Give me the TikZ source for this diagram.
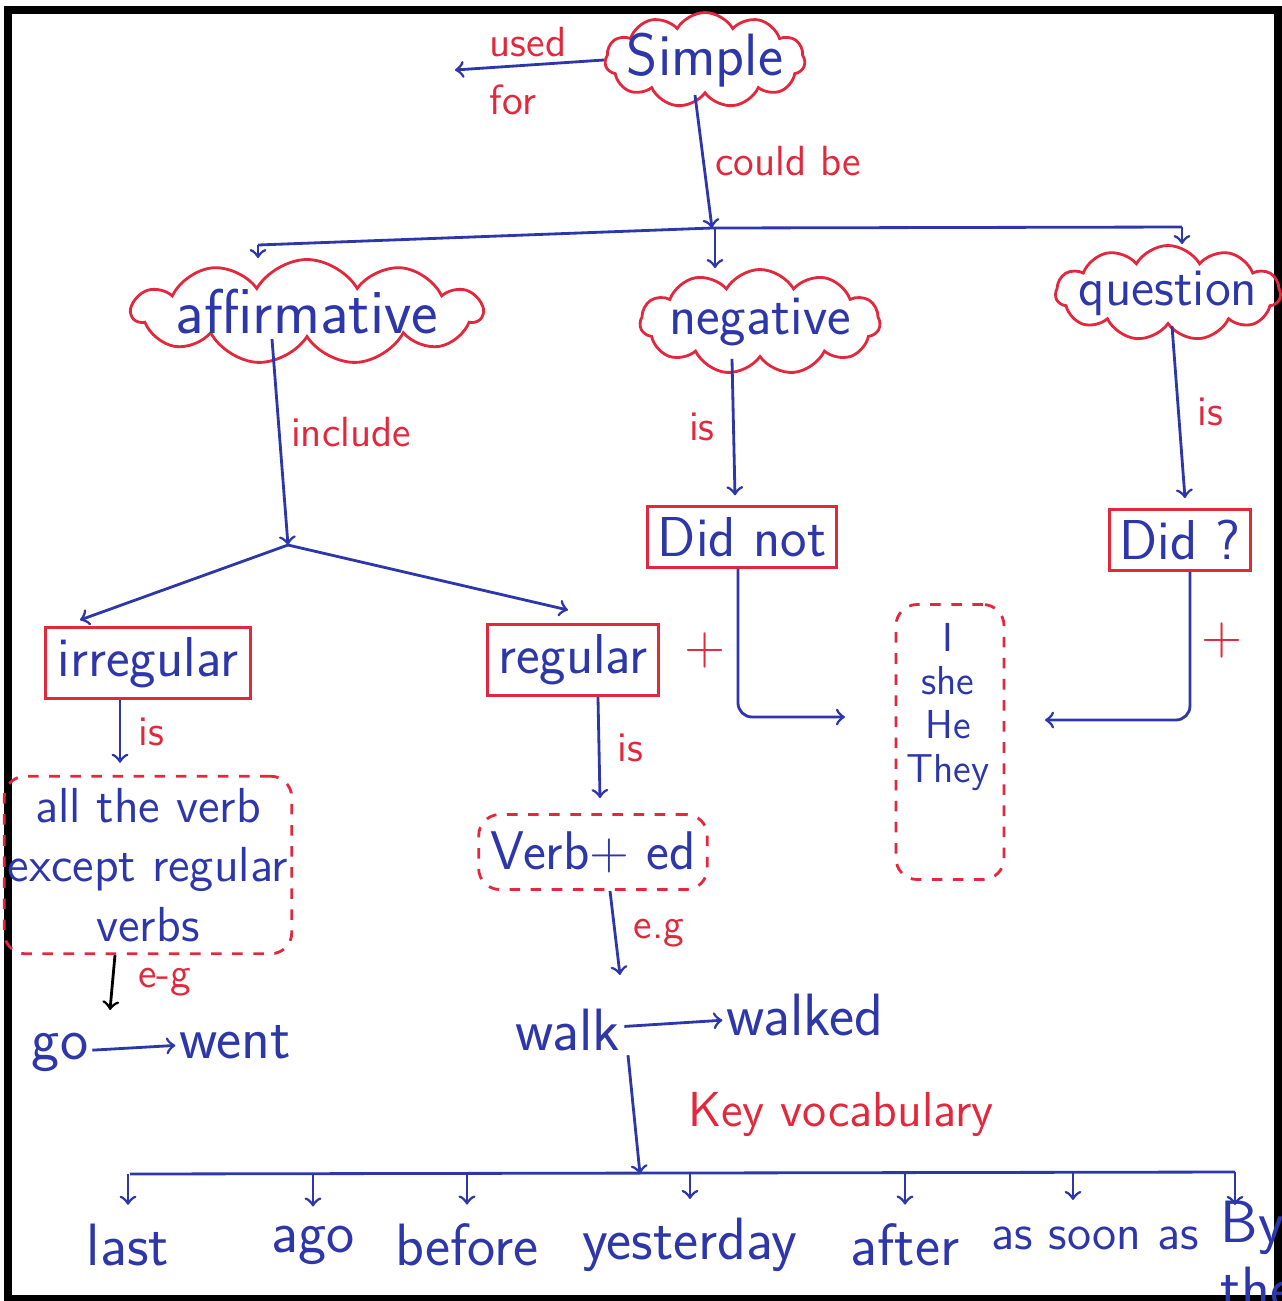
\documentclass[tikz,border=0pt]{standalone}
\usepackage{tikz}
\usetikzlibrary{shapes.symbols,positioning}
\definecolor{inkblue}{RGB}{45,55,170}
\definecolor{inkred}{RGB}{225,40,60}
\tikzset{
    word/.style={text=inkblue, font=\sffamily\fontsize{17}{19}\selectfont, inner sep=1pt},
    note/.style={text=inkred, font=\sffamily\fontsize{12}{14}\selectfont, inner sep=1pt},
    puff/.style={cloud, draw=inkred, thick, cloud puffs=11, cloud puff arc=120,
            cloud ignores aspect, inner sep=0pt},
    puffword/.style={text=inkblue, font=\sffamily\fontsize{16}{18}\selectfont},
    framebox/.style={draw=inkred, thick, text=inkblue,
            font=\sffamily\fontsize{16}{18}\selectfont, inner sep=3pt},
    dashbox/.style={draw=inkred, thick, dashed, rounded corners=6pt, text=inkblue,
            font=\sffamily\fontsize{14}{17}\selectfont, align=center},
    link/.style={draw=inkblue, thick, ->},
    bar/.style={draw=inkblue, thick},
}
\begin{document}
\begin{tikzpicture}
        \useasboundingbox (0,0) rectangle (12.82,-13.01);
        %frame
        \draw[line width=2pt] (0.08,-0.1) rectangle (12.78,-12.98);
        %top node
        \node[puff, minimum width=2.0cm, minimum height=0.95cm,
            label={[puffword, font=\sffamily\fontsize{17}{19}\selectfont]center:Simple}] (simple) at (7.05,-0.6) {};
        \node[note] (used) at (5.28,-0.42) {used};
        \node[note] (for) at (5.13,-1.0) {for};
        \coordinate (usedend) at (4.55,-0.7);
        \draw[link] (simple.west) -- (usedend);
        %split into three
        \coordinate (split) at (7.12,-2.28);
        \coordinate (capA) at (2.58,-2.45);
        \coordinate (capN) at (7.15,-2.28);
        \coordinate (capQ) at (11.82,-2.27);
        \draw[link] ([xshift=-0.1cm]simple.south) -- (split) node [note, midway, right=2pt] {could be};
        \draw[bar] (capA) -- (split) -- (capQ);
        \node[puff, minimum width=3.5cm, minimum height=1.05cm,
            label={[puffword, font=\sffamily\fontsize{18}{20}\selectfont]center:affirmative}] (affirm) at (3.07,-3.12) {};
        \node[puff, minimum width=2.4cm, minimum height=1.05cm,
            label={[puffword]center:negative}] (neg) at (7.6,-3.22) {};
        \node[puff, minimum width=2.25cm, minimum height=0.95cm,
            label={[puffword, font=\sffamily\fontsize{15}{17}\selectfont]center:question}] (quest) at (11.68,-2.93) {};
        \draw[link] (capA) -- (capA |- affirm.north);
        \draw[link] (capN) -- (capN |- neg.north);
        \draw[link] (capQ) -- (capQ |- quest.north);
        %affirmative branch
        \coordinate (fork) at (2.88,-5.45);
        \draw[link] ([xshift=-0.35cm]affirm.south) -- (fork) node [note, pos=0.45, right=2pt] {include};
        \node[framebox, minimum width=2.05cm, minimum height=0.7cm] (irreg) at (1.48,-6.63) {irregular};
        \node[framebox, minimum width=1.5cm, minimum height=0.7cm] (reg) at (5.73,-6.6) {regular};
        \coordinate (toirr) at (0.8,-6.2);
        \coordinate (toreg) at (5.68,-6.1);
        \draw[link] (fork) -- (toirr);
        \draw[link] (fork) -- (toreg);
        \node[note, font=\sffamily\fontsize{16}{16}\selectfont] (plusreg) at (7.05,-6.5) {+};
        %irregular verbs
        \node[dashbox, inner xsep=1pt, minimum width=2.7cm, minimum height=1.6cm] (allverb) at (1.48,-8.65)
            {all the verb\\except regular\\verbs};
        \draw[link] ([xshift=-0.28cm]irreg.south) -- ([xshift=-0.28cm,yshift=0.12cm]allverb.north)
            node [note, midway, right=4pt] {is};
        \node[word] (go) at (0.6,-10.52) {go};
        \node[word] (went) at (2.35,-10.42) {went};
        \draw[link] (go) -- (went);
        \coordinate (toeg) at (1.1,-10.1);
        \draw[thick, ->] ([xshift=-0.33cm]allverb.south) -- (toeg) node [note, midway, right=6pt] {e-g};
        %regular verbs
        \node[dashbox, font=\sffamily\fontsize{15.5}{17}\selectfont, minimum width=2.08cm, minimum height=0.75cm] (verbed) at (5.93,-8.52) {Verb+ ed};
        \draw[link] ([xshift=0.25cm]reg.south) -- ([xshift=0.07cm,yshift=0.15cm]verbed.north)
            node [note, midway, right=4pt] {is};
        \node[word] (walk) at (5.68,-10.3) {walk};
        \node[word] (walked) at (8.05,-10.15) {walked};
        \draw[link] (walk) -- (walked);
        \coordinate (towalk) at (6.2,-9.75);
        \draw[link] ([xshift=0.17cm]verbed.south) -- (towalk) node [note, midway, right=4pt] {e.g};
        %negative and question
        \node[framebox, minimum width=1.75cm, minimum height=0.55cm] (didnot) at (7.42,-5.37) {Did not};
        \node[framebox, minimum width=1.4cm, minimum height=0.6cm] (didq) at (11.8,-5.4) {Did ?};
        \draw[link] ([xshift=-0.28cm]neg.south) -- ([xshift=-0.07cm,yshift=0.1cm]didnot.north)
            node [note, midway, left=4pt] {is};
        \draw[link] ([xshift=0.04cm]quest.south) -- ([xshift=0.05cm,yshift=0.1cm]didq.north)
            node [note, midway, right=4pt] {is};
        \node[note, font=\sffamily\fontsize{16}{16}\selectfont] (plusq) at (12.22,-6.4) {+};
        %pronouns
        \node[dashbox, minimum width=1.08cm, minimum height=2.75cm] (pron) at (9.5,-7.42) {};
        \node[word, align=center, font=\sffamily\fontsize{11.5}{12.5}\selectfont] (who) at (9.48,-7.07) {I\\she\\He\\They};
        \coordinate (pinL) at (8.45,-7.17);
        \coordinate (pinR) at (10.45,-7.2);
        \draw[link, rounded corners=4pt] ([xshift=-0.04cm]didnot.south) |- (pinL);
        \draw[link, rounded corners=4pt] ([xshift=0.1cm]didq.south) |- (pinR);
        %key vocabulary
        \coordinate (hub) at (6.4,-11.74);
        \draw[link] ([xshift=0.6cm]walk.south) -- (hub)
            node [note, font=\sffamily\fontsize{14}{16}\selectfont, midway, right=14pt] {Key vocabulary};
        \draw[bar] (1.3,-11.74) coordinate (barL) -- (12.35,-11.72) coordinate (barR);
        \foreach \x/\w/\n in {1.28/last/last, 3.13/ago/ago, 4.67/before/before,
                6.9/yesterday/yday, 9.05/after/after} {
            \node[word] (\n) at (\x,-12.45) {\w};
            \coordinate (top\n) at (\x,-11.74);
            \draw[link] (top\n) -- ([yshift=0.15cm]\n.north);
        }
        \node[word, font=\sffamily\fontsize{14}{16}\selectfont] (soon) at (10.95,-12.38) {as soon as};
        \coordinate (topsoon) at (10.73,-11.73);
        \draw[link] (topsoon) -- (10.73,-12.0);
        \node[word, align=left] (bythe) at (12.58,-12.55) {By\\the};
        \coordinate (topbythe) at (12.35,-11.72);
        \draw[link] (topbythe) -- (12.35,-12.05);
    \end{tikzpicture}
\end{document}
